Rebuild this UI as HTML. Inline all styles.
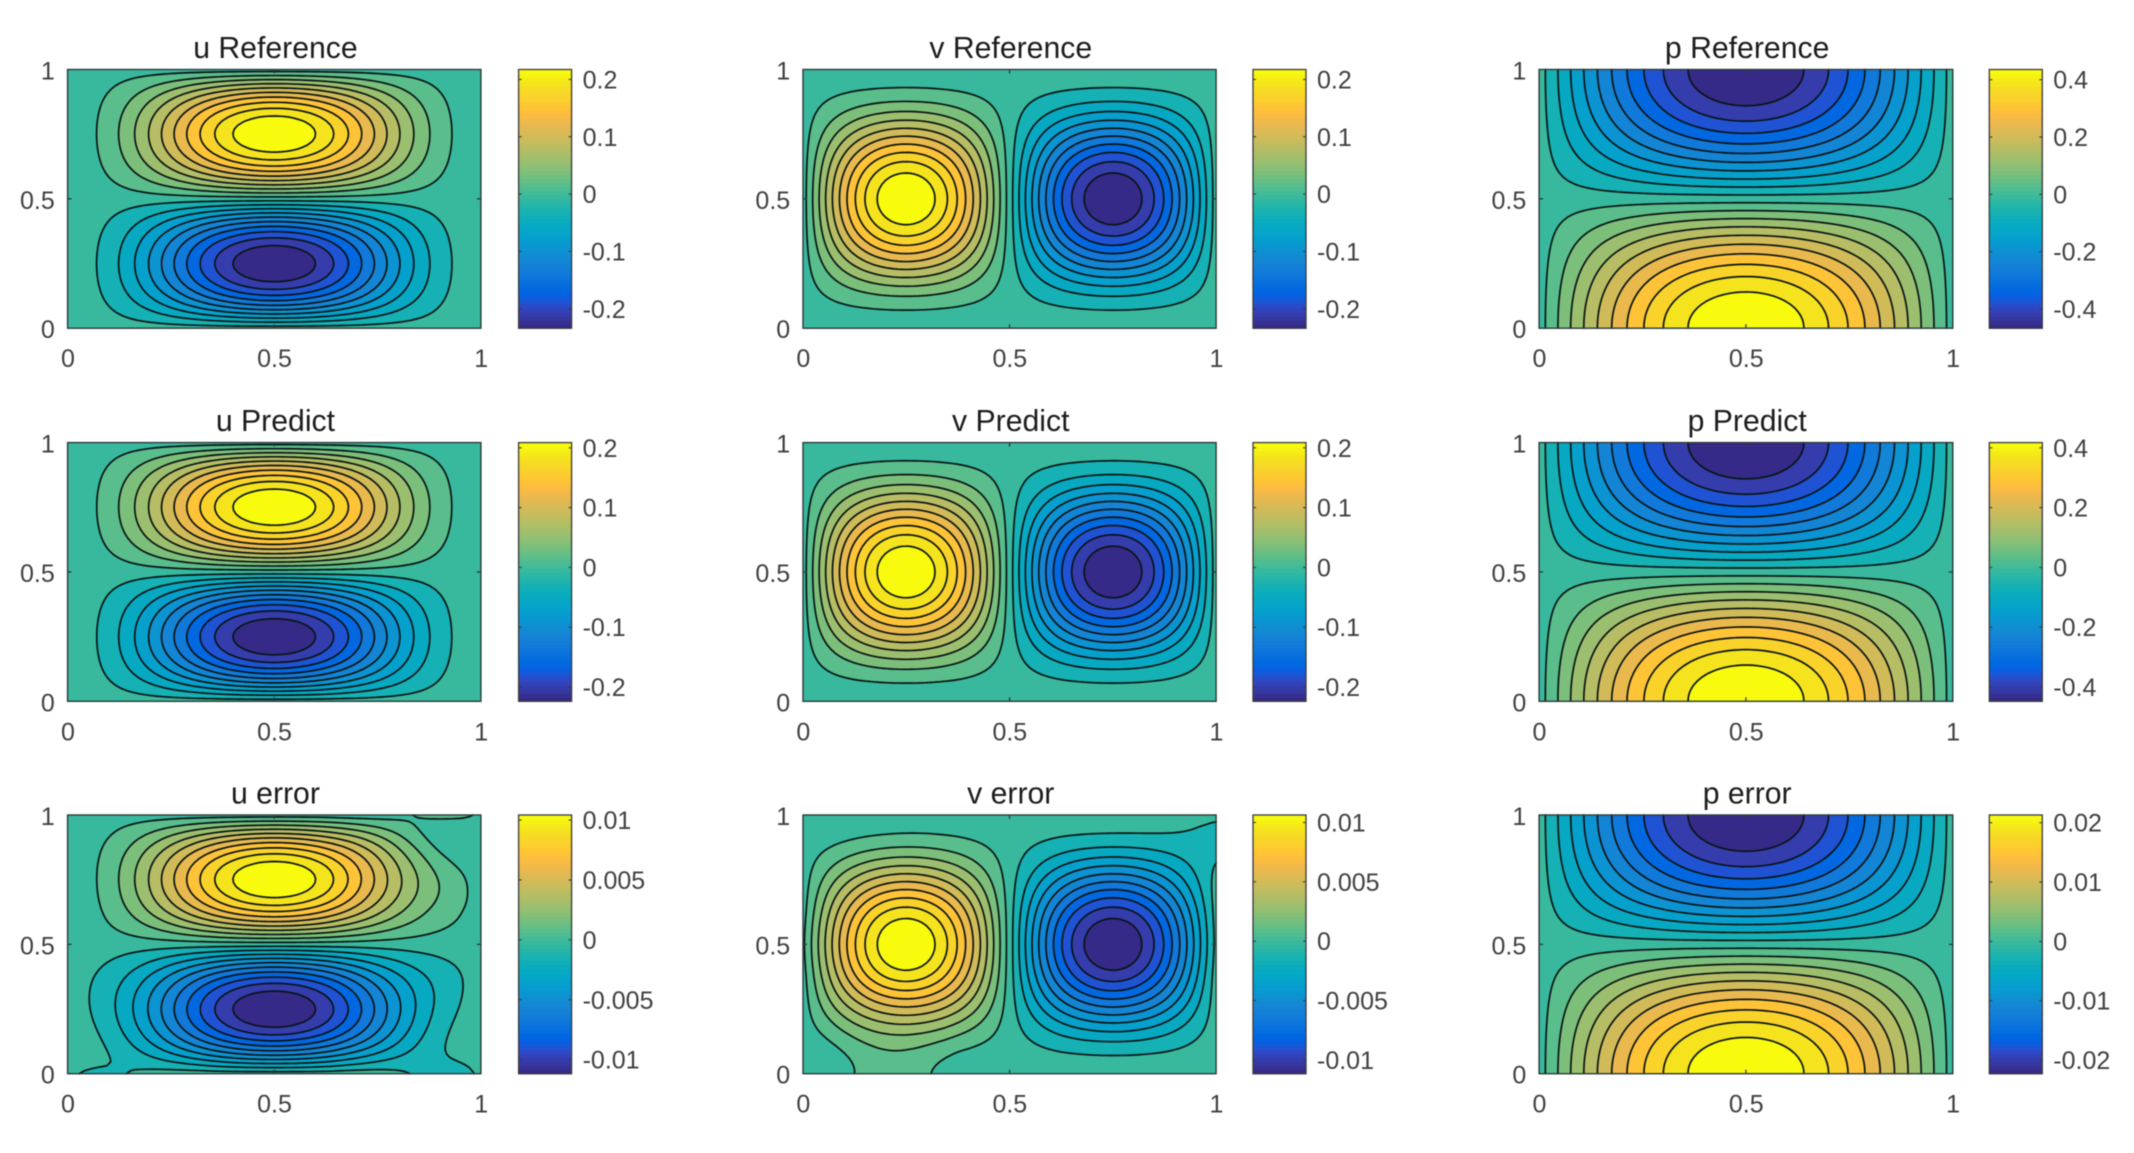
<!DOCTYPE html>
<html lang="en">
<head>
<meta charset="utf-8">
<title>Reference, Predict and error fields</title>
<style>
html,body{margin:0;padding:0;background:#fff;width:2134px;height:1153px;overflow:hidden}
svg{display:block;filter:blur(0.55px)}
text{font-family:"Liberation Sans",sans-serif}
</style>
</head>
<body>
<svg id="figure" xmlns="http://www.w3.org/2000/svg" width="2134" height="1153" viewBox="0 0 2134 1153"></svg>
<script>
// Field values on a 9x9 grid: rows run y = 0 to 1, columns run x = 0 to 1.
const uReferenceGrid = [
[0,0,0,0,0,0,0,0,0],
[0,-.0232,-.0795,-.1359,-.1591,-.1359,-.0795,-.0232,0],
[0,-.0329,-.1125,-.1922,-.225,-.1922,-.1125,-.0329,0],
[0,-.0232,-.0795,-.1359,-.1591,-.1359,-.0795,-.0232,0],
[0,0,0,0,0,0,0,0,0],
[0,.0232,.0795,.1359,.1591,.1359,.0795,.0232,0],
[0,.0329,.1125,.1922,.225,.1922,.1125,.0329,0],
[0,.0232,.0795,.1359,.1591,.1359,.0795,.0232,0],
[0,0,0,0,0,0,0,0,0]];
const vReferenceGrid = [
[0,0,0,0,0,0,0,0,0],
[0,.0232,.0329,.0232,0,-.0232,-.0329,-.0232,0],
[0,.0795,.1125,.0795,0,-.0795,-.1125,-.0795,0],
[0,.1359,.1922,.1359,0,-.1359,-.1922,-.1359,0],
[0,.1591,.225,.1591,0,-.1591,-.225,-.1591,0],
[0,.1359,.1922,.1359,0,-.1359,-.1922,-.1359,0],
[0,.0795,.1125,.0795,0,-.0795,-.1125,-.0795,0],
[0,.0232,.0329,.0232,0,-.0232,-.0329,-.0232,0],
[0,0,0,0,0,0,0,0,0]];
const pReferenceGrid = [
[0,.1724,.3182,.4158,.45,.4158,.3182,.1724,0],
[0,.1593,.294,.3842,.4158,.3842,.294,.1593,0],
[0,.1219,.225,.294,.3182,.294,.225,.1219,0],
[0,.066,.1219,.1593,.1724,.1593,.1219,.066,0],
[0,0,0,0,0,0,0,0,0],
[0,-.066,-.1219,-.1593,-.1724,-.1593,-.1219,-.066,0],
[0,-.1219,-.225,-.294,-.3182,-.294,-.225,-.1219,0],
[0,-.1593,-.294,-.3842,-.4158,-.3842,-.294,-.1593,0],
[0,-.1724,-.3182,-.4158,-.45,-.4158,-.3182,-.1724,0]];
const uPredictGrid = [
[0,0,0,0,0,0,0,0,0],
[0,-.0223,-.0764,-.1304,-.1527,-.1304,-.0764,-.0223,0],
[0,-.0315,-.108,-.1845,-.216,-.1845,-.108,-.0315,0],
[0,-.0223,-.0764,-.1304,-.1527,-.1304,-.0764,-.0223,0],
[0,0,0,0,0,0,0,0,0],
[0,.0223,.0764,.1304,.1527,.1304,.0764,.0223,0],
[0,.0315,.108,.1845,.216,.1845,.108,.0315,0],
[0,.0223,.0764,.1304,.1527,.1304,.0764,.0223,0],
[0,0,0,0,0,0,0,0,0]];
const vPredictGrid = [
[0,0,0,0,0,0,0,0,0],
[0,.0223,.0315,.0223,0,-.0223,-.0315,-.0223,0],
[0,.0764,.108,.0764,0,-.0764,-.108,-.0764,0],
[0,.1304,.1845,.1304,0,-.1304,-.1845,-.1304,0],
[0,.1527,.216,.1527,0,-.1527,-.216,-.1527,0],
[0,.1304,.1845,.1304,0,-.1304,-.1845,-.1304,0],
[0,.0764,.108,.0764,0,-.0764,-.108,-.0764,0],
[0,.0223,.0315,.0223,0,-.0223,-.0315,-.0223,0],
[0,0,0,0,0,0,0,0,0]];
const pPredictGrid = [
[0,.1647,.304,.3973,.43,.3973,.304,.1647,0],
[0,.1522,.2809,.3671,.3973,.3671,.2809,.1522,0],
[0,.1164,.215,.2809,.304,.2809,.215,.1164,0],
[0,.0631,.1164,.1522,.1647,.1522,.1164,.0631,0],
[0,0,0,0,0,0,0,0,0],
[0,-.0631,-.1164,-.1522,-.1647,-.1522,-.1164,-.0631,0],
[0,-.1164,-.215,-.2809,-.304,-.2809,-.215,-.1164,0],
[0,-.1522,-.2809,-.3671,-.3973,-.3671,-.2809,-.1522,0],
[0,-.1647,-.304,-.3973,-.43,-.3973,-.304,-.1647,0]];
const uErrorGrid = [
[0,-.0006,0,0,0,0,0,-.0009,0],
[0,-.00108,-.00371,-.00634,-.00742,-.00634,-.00371,-.00108,0],
[0,-.0017,-.00525,-.00897,-.0105,-.00897,-.00525,-.0017,0],
[0,-.00125,-.00371,-.00634,-.00742,-.00634,-.00371,-.0014,0],
[0,0,0,0,0,0,0,0,0],
[0,.00108,.00371,.00634,.00742,.00634,.00371,.0014,0],
[0,.00153,.00525,.00897,.0105,.00897,.00525,.0019,0],
[0,.00108,.00371,.00634,.00742,.00634,.00371,.00075,0],
[0,0,0,0,0,0,0,.0008,0]];
const vErrorGrid = [
[0,.0005,.0009,0,0,0,0,0,0],
[0,.0013,.002,.00108,0,-.00108,-.00153,-.00108,0],
[0,.00371,.00525,.00371,0,-.00371,-.00525,-.00371,0],
[.0001,.00634,.00897,.00634,0,-.00634,-.00897,-.00634,0],
[.0003,.00742,.0105,.00742,0,-.00742,-.0105,-.00742,-.0002],
[.0001,.00634,.00897,.00634,0,-.00634,-.00897,-.00634,-.0001],
[0,.00371,.00525,.00371,0,-.00371,-.00525,-.00371,-.0002],
[0,.001,.00153,.00108,0,-.00108,-.00153,-.0012,-.0008],
[0,0,0,0,0,0,0,0,0]];
const pErrorGrid = [
[0,.00823,.0152,.01987,.0215,.01987,.0152,.00823,0],
[0,.00761,.01405,.01836,.01987,.01836,.01405,.00761,0],
[0,.00582,.01075,.01405,.0152,.01405,.01075,.00582,0],
[0,.00315,.00582,.00761,.00823,.00761,.00582,.00315,0],
[0,0,0,0,0,0,0,0,0],
[0,-.00315,-.00582,-.00761,-.00823,-.00761,-.00582,-.00315,0],
[0,-.00582,-.01075,-.01405,-.0152,-.01405,-.01075,-.00582,0],
[0,-.00761,-.01405,-.01836,-.01987,-.01836,-.01405,-.00761,0],
[0,-.00823,-.0152,-.01987,-.0215,-.01987,-.0152,-.00823,0]];

// Axis ticks
const axisTicks = [0, 0.5, 1];
const axisTickLabels = ["0", "0.5", "1"];

// Colorbar limits [low, high] and ticks
const uReferenceLimits = [-.2339, .2173];
const vReferenceLimits = [-.2339, .2173];
const pReferenceLimits = [-.4667, .4356];
const uPredictLimits = [-.2238, .2087];
const vPredictLimits = [-.2238, .2087];
const pPredictLimits = [-.4476, .4174];
const uErrorLimits = [-.01117, .01042];
const vErrorLimits = [-.01116, .01063];
const pErrorLimits = [-.0223, .0213];
const velocityTicks = [.2, .1, 0, -.1, -.2];
const velocityTickLabels = ["0.2", "0.1", "0", "-0.1", "-0.2"];
const pressureTicks = [.4, .2, 0, -.2, -.4];
const pressureTickLabels = ["0.4", "0.2", "0", "-0.2", "-0.4"];
const velocityErrorTicks = [.01, .005, 0, -.005, -.01];
const velocityErrorTickLabels = ["0.01", "0.005", "0", "-0.005", "-0.01"];
const pressureErrorTicks = [.02, .01, 0, -.01, -.02];
const pressureErrorTickLabels = ["0.02", "0.01", "0", "-0.01", "-0.02"];

// Panel titles and the arrays each one reads
const panelTitles = ["u Reference","v Reference","p Reference","u Predict","v Predict","p Predict","u error","v error","p error"];
const panelGrids = [uReferenceGrid,vReferenceGrid,pReferenceGrid,uPredictGrid,vPredictGrid,pPredictGrid,uErrorGrid,vErrorGrid,pErrorGrid];
const panelLimits = [uReferenceLimits,vReferenceLimits,pReferenceLimits,uPredictLimits,vPredictLimits,pPredictLimits,uErrorLimits,vErrorLimits,pErrorLimits];
const panelTicks = [velocityTicks,velocityTicks,pressureTicks,velocityTicks,velocityTicks,pressureTicks,velocityErrorTicks,velocityErrorTicks,pressureErrorTicks];
const panelTickLabels = [velocityTickLabels,velocityTickLabels,pressureTickLabels,velocityTickLabels,velocityTickLabels,pressureTickLabels,velocityErrorTickLabels,velocityErrorTickLabels,pressureErrorTickLabels];
const contourLevelCount = 20;

// Parula colormap
const parula = [[.2081,.1663,.5292],[.2116,.1898,.5777],[.2123,.2138,.6270],[.2081,.2386,.6771],[.1959,.2645,.7279],[.1707,.2919,.7792],[.1253,.3242,.8303],[.0591,.3598,.8683],[.0117,.3875,.8820],[.0060,.4086,.8828],[.0165,.4266,.8786],[.0329,.4430,.8720],[.0498,.4586,.8641],[.0629,.4737,.8554],[.0723,.4887,.8467],[.0779,.5040,.8384],[.0793,.5200,.8312],[.0749,.5375,.8263],[.0641,.5570,.8240],[.0488,.5772,.8228],[.0343,.5966,.8199],[.0265,.6137,.8135],[.0239,.6287,.8038],[.0231,.6418,.7913],[.0228,.6535,.7768],[.0267,.6642,.7607],[.0384,.6743,.7436],[.0590,.6838,.7254],[.0843,.6928,.7062],[.1133,.7015,.6859],[.1453,.7098,.6646],[.1801,.7177,.6424],[.2178,.7250,.6193],[.2586,.7317,.5954],[.3022,.7376,.5712],[.3482,.7424,.5473],[.3953,.7459,.5244],[.4420,.7481,.5033],[.4871,.7491,.4840],[.5300,.7491,.4661],[.5709,.7485,.4494],[.6099,.7473,.4337],[.6473,.7456,.4188],[.6834,.7435,.4044],[.7184,.7411,.3905],[.7525,.7384,.3768],[.7858,.7356,.3633],[.8185,.7327,.3498],[.8507,.7299,.3360],[.8824,.7274,.3217],[.9139,.7258,.3063],[.9450,.7261,.2886],[.9739,.7314,.2666],[.9938,.7455,.2403],[.9990,.7653,.2164],[.9955,.7861,.1967],[.9880,.8066,.1794],[.9789,.8271,.1633],[.9697,.8481,.1475],[.9626,.8705,.1309],[.9589,.8949,.1132],[.9598,.9218,.0948],[.9661,.9514,.0755],[.9763,.9831,.0538]];

const SVG_NS = "http://www.w3.org/2000/svg";
const figure = document.getElementById("figure");

function parulaColor(t) {
  const i = Math.max(0, Math.min(63, Math.round(t * 63)));
  const c = parula[i];
  return "rgb(" + Math.round(c[0] * 255) + "," + Math.round(c[1] * 255) + "," + Math.round(c[2] * 255) + ")";
}
function svgEl(tag, parent, attrs) {
  const el = document.createElementNS(SVG_NS, tag);
  for (const k in attrs) el.setAttribute(k, attrs[k]);
  parent.appendChild(el);
  return el;
}
function lagrange(t, n) {
  const pos = t * (n - 1);
  const base = Math.max(0, Math.min(n - 6, Math.floor(pos) - 2));
  const w = [];
  for (let a = 0; a < 6; a++) {
    let v = 1;
    for (let b = 0; b < 6; b++) if (b !== a) v *= (pos - (base + b)) / (a - b);
    w.push(v);
  }
  return { base: base, w: w };
}
function sampleField(grid, nx, ny) {
  const rows = grid.length, cols = grid[0].length, out = [];
  const xw = [];
  for (let i = 0; i <= nx; i++) xw.push(lagrange(i / nx, cols));
  for (let j = 0; j <= ny; j++) {
    const yw = lagrange(j / ny, rows), line = [];
    for (let i = 0; i <= nx; i++) {
      let s = 0;
      for (let a = 0; a < 6; a++) for (let b = 0; b < 6; b++) {
        s += yw.w[a] * xw[i].w[b] * grid[yw.base + a][xw[i].base + b];
      }
      line.push(s);
    }
    out.push(line);
  }
  return out;
}
function gridRange(grid) {
  let lo = Infinity, hi = -Infinity;
  grid.forEach(function (r) { r.forEach(function (v) { if (v < lo) lo = v; if (v > hi) hi = v; }); });
  return [lo, hi];
}
function regionPath(field, level, sx, sy) {
  const ny = field.length - 1, nx = field[0].length - 1;
  let d = "";
  for (let j = 0; j < ny; j++) {
    let runStart = -1;
    for (let i = 0; i <= nx; i++) {
      const full = i < nx && field[j][i] >= level && field[j][i + 1] >= level && field[j + 1][i] >= level && field[j + 1][i + 1] >= level;
      if (full) { if (runStart < 0) runStart = i; continue; }
      if (runStart >= 0) {
        d += "M" + sx(runStart) + " " + sy(j) + "L" + sx(i) + " " + sy(j) + "L" + sx(i) + " " + sy(j + 1) + "L" + sx(runStart) + " " + sy(j + 1) + "Z";
        runStart = -1;
      }
      if (i === nx) break;
      const cx = [i, i + 1, i + 1, i], cy = [j, j, j + 1, j + 1];
      const val = [field[j][i], field[j][i + 1], field[j + 1][i + 1], field[j + 1][i]];
      const pts = [];
      for (let c = 0; c < 4; c++) {
        const n = (c + 1) % 4, a = val[c], b = val[n];
        if (a >= level) pts.push([cx[c], cy[c]]);
        if ((a >= level) !== (b >= level)) {
          const t = (level - a) / (b - a);
          pts.push([cx[c] + (cx[n] - cx[c]) * t, cy[c] + (cy[n] - cy[c]) * t]);
        }
      }
      if (pts.length > 2) d += "M" + pts.map(function (p) { return sx(p[0]) + " " + sy(p[1]); }).join("L") + "Z";
    }
  }
  return d;
}
function contourPath(field, level, sx, sy) {
  const ny = field.length - 1, nx = field[0].length - 1;
  let d = "";
  for (let j = 0; j < ny; j++) for (let i = 0; i < nx; i++) {
    const cx = [i, i + 1, i + 1, i], cy = [j, j, j + 1, j + 1];
    const val = [field[j][i], field[j][i + 1], field[j + 1][i + 1], field[j + 1][i]];
    const pts = [];
    for (let c = 0; c < 4; c++) {
      const n = (c + 1) % 4, a = val[c], b = val[n];
      if ((a >= level) !== (b >= level)) {
        const t = (level - a) / (b - a);
        pts.push([cx[c] + (cx[n] - cx[c]) * t, cy[c] + (cy[n] - cy[c]) * t]);
      }
    }
    for (let p = 0; p + 1 < pts.length; p += 2) {
      d += "M" + sx(pts[p][0]) + " " + sy(pts[p][1]) + "L" + sx(pts[p + 1][0]) + " " + sy(pts[p + 1][1]);
    }
  }
  return d;
}
function slug(s) { return s.toLowerCase().replace(/\s+/g, "-"); }

function drawPanel(index) {
  const col = index % 3, row = Math.floor(index / 3);
  const left = [67.6, 803, 1539.1][col], width = [413.3, 413.1, 413.7][col];
  const top = [69.5, 442.6, 815][row], height = 258.7;
  const cbLeft = [518.6, 1253, 1989.3][col], cbWidth = 53;
  const name = slug(panelTitles[index]);
  const grid = panelGrids[index], limits = panelLimits[index];
  const xScale = function (v) { return left + v * width; };
  const yScale = function (v) { return top + height - v * height; };
  const NX = 104, NY = 65;
  const sx = function (i) { return +xScale(i / NX).toFixed(2); };
  const sy = function (j) { return +yScale(j / NY).toFixed(2); };
  const field = sampleField(grid, NX, NY);
  const range = gridRange(grid);

  const panel = svgEl("g", figure, {});
  
  

  const title = svgEl("text", panel, { x: left + width / 2 + 1.2, y: top - 11.5, "text-anchor": "middle", "font-size": 30.2, fill: "#1c1c1c" });
  title.textContent = panelTitles[index];
  
  

  const base = svgEl("rect", panel, { x: left, y: top, width: width, height: height, fill: parulaColor(0) });
  
  

  const levels = [];
  for (let k = 1; k <= contourLevelCount; k++) levels.push(range[0] + k * (range[1] - range[0]) / (contourLevelCount + 1));

  levels.forEach(function (level, k) {
    const band = svgEl("path", panel, { d: regionPath(field, level, sx, sy), fill: parulaColor((k + 1) / contourLevelCount) });
    
    
  });
  levels.forEach(function (level) {
    const line = svgEl("path", panel, { d: contourPath(field, level, sx, sy), fill: "none", stroke: "#0a1414", "stroke-width": 1.7, "stroke-linecap": "round" });
    
    
  });

  const box = svgEl("rect", panel, { x: left, y: top, width: width, height: height, fill: "none", stroke: "#2b3a3a", "stroke-width": 1.4 });
  
  

  axisTicks.forEach(function (v, t) {
    const xPos = xScale(v), yPos = yScale(v);
    if (v > 0 && v < 1) {
      [[xPos, top, xPos, top + 4], [xPos, top + height, xPos, top + height - 4], [left, yPos, left + 4, yPos], [left + width, yPos, left + width - 4, yPos]].forEach(function (s) {
        const tick = svgEl("line", panel, { x1: s[0], y1: s[1], x2: s[2], y2: s[3], stroke: "#2b3a3a", "stroke-width": 1.3 });
        
        
      });
    }
    const xLabel = svgEl("text", panel, { x: xPos + 0.3, y: top + height + 39, "text-anchor": "middle", "font-size": 25, fill: "#404040" });
    xLabel.textContent = axisTickLabels[t];
    
    
    const yLabel = svgEl("text", panel, { x: left - 12.8, y: yPos + 10, "text-anchor": "end", "font-size": 25, fill: "#404040" });
    yLabel.textContent = axisTickLabels[t];
    
    
  });

  const bar = svgEl("g", panel, {});
  
  
  const cbY = function (v) { return top + height - (v - limits[0]) / (limits[1] - limits[0]) * height; };
  const steps = parula.length;
  parula.forEach(function (c, s) {
    const stepH = height / steps;
    const cell = svgEl("rect", bar, { x: cbLeft, y: top + height - (s + 1) * stepH, width: cbWidth, height: stepH + 0.6, fill: parulaColor(s / (steps - 1)) });
    
    
  });
  const barBox = svgEl("rect", bar, { x: cbLeft, y: top, width: cbWidth, height: height, fill: "none", stroke: "#3a3a3a", "stroke-width": 1.3 });
  
  
  panelTicks[index].forEach(function (v, t) {
    const yPos = cbY(v);
    [[cbLeft, cbLeft + 3], [cbLeft + cbWidth, cbLeft + cbWidth - 3]].forEach(function (s) {
      const tick = svgEl("line", bar, { x1: s[0], y1: yPos, x2: s[1], y2: yPos, stroke: "#3a3a3a", "stroke-width": 1.1 });
      
      
    });
    const label = svgEl("text", bar, { x: cbLeft + cbWidth + 11, y: yPos + 9, "text-anchor": "start", "font-size": 25, fill: "#404040" });
    label.textContent = panelTickLabels[index][t];
    
    
  });
}
panelTitles.forEach(function (t, i) { drawPanel(i); });
</script>
</body>
</html>
